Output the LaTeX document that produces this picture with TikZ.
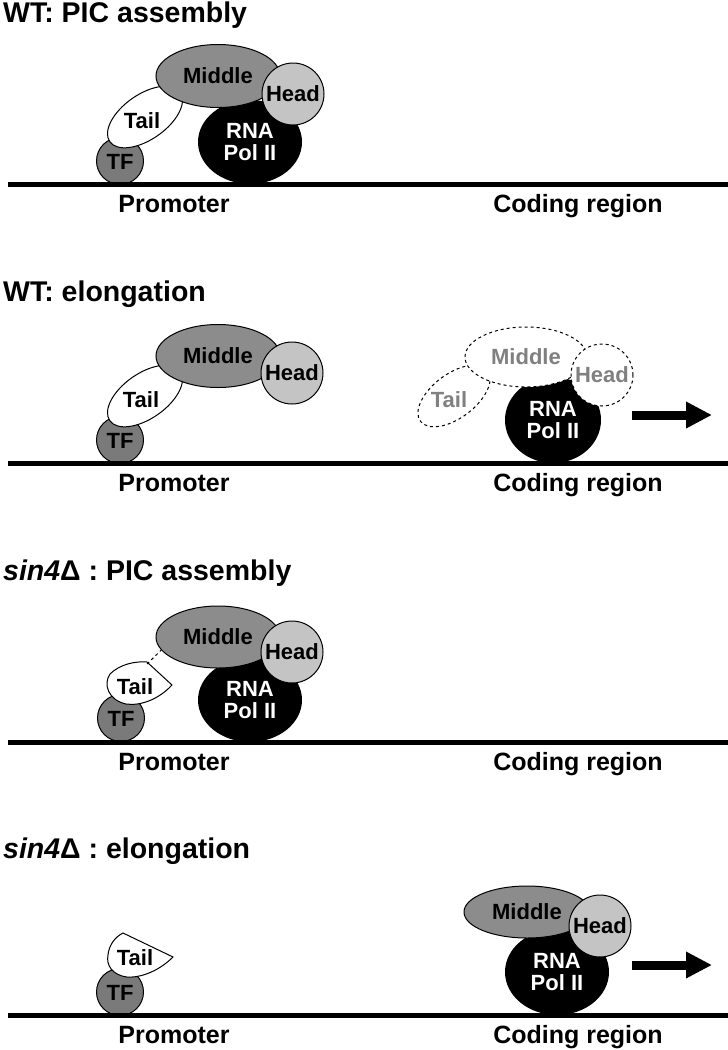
\documentclass[tikz,border=0pt]{standalone}
\usepackage{fontspec}
\setmainfont{Liberation Sans}
\usetikzlibrary{shapes.geometric,arrows.meta}
\definecolor{midgray}{HTML}{8C8C8C}
\definecolor{tfgray}{HTML}{7A7A7A}
\definecolor{headgray}{HTML}{C4C4C4}
\definecolor{ghostgray}{HTML}{808080}
\tikzset{
	paneltitle/.style={anchor=base west,inner sep=0,font=\fontsize{28.5}{30}\selectfont\bfseries},
	region/.style={anchor=base,inner sep=0,font=\fontsize{25}{27}\selectfont\bfseries},
	lbl/.style={inner sep=0,align=center,font=\fontsize{22}{22}\selectfont\bfseries},
	tfball/.style={circle,draw,line width=1pt,fill=tfgray,minimum size=47pt,inner sep=0},
	tailegg/.style={ellipse,draw,line width=1pt,fill=white,minimum width=86pt,minimum height=45pt,inner sep=0,rotate=35},
	middlebody/.style={ellipse,draw,line width=1pt,fill=midgray,minimum width=124pt,minimum height=63pt,inner sep=0},
	headball/.style={circle,draw,line width=1pt,fill=headgray,minimum size=62pt,inner sep=0},
	polbody/.style={ellipse,fill=black,text=white,minimum width=104pt,minimum height=84pt,inner sep=0},
	ghost/.style={draw,dashed,line width=1pt,fill=white,text=ghostgray},
	dna/.style={line width=5pt},
	moving/.style={line width=9pt,-{Triangle[length=26pt,width=25pt]}},
	tether/.style={dashed,line width=1pt},
}
\begin{document}
\begin{tikzpicture}[x=1pt,y=1pt]
	\useasboundingbox (0,0) rectangle (728,-1050);
	% WT: PIC assembly
	\node[paneltitle] (t1) at (3,-22) {WT: PIC assembly};
	\node[tfball] (tf1) at (120,-161) {};
	\node[tailegg] (tail1) at (145,-117) {};
	\node[lbl] (taillbl1) at (142,-121) {Tail};
	\node[lbl] (tflbl1) at (120,-162) {TF};
	\node[polbody,lbl,minimum width=104pt,minimum height=84pt] (pol1) at (250,-142) {RNA\\Pol II};
	\node[middlebody,lbl,minimum width=124pt,minimum height=63pt] (mid1) at (218,-76) {Middle};
	\node[headball,lbl,minimum size=62pt] (head1) at (293,-94) {Head};
	\draw[dna] (8,-184.5) -- (728,-184.5);
	\node[region] (prom1) at (174,-212) {Promoter};
	\node[region] (cod1) at (578,-212) {Coding region};
	% WT: elongation
	\node[paneltitle] (t2) at (3,-301) {WT: elongation};
	\node[tfball] (tf2) at (120,-440) {};
	\node[tailegg] (tail2) at (145,-396) {};
	\node[lbl] (taillbl2) at (141,-400) {Tail};
	\node[lbl] (tflbl2) at (120,-441) {TF};
	\node[middlebody,lbl,minimum width=124pt,minimum height=63pt] (mid2) at (218,-356) {Middle};
	\node[headball,lbl,minimum size=62pt] (head2) at (292,-373) {Head};
	\node[polbody,lbl,minimum width=96pt,minimum height=86pt] (pol2) at (553,-420) {RNA\\Pol II};
	\node[ellipse,ghost,minimum width=84pt,minimum height=44pt,inner sep=0,rotate=37] (tail2b) at (454,-396) {};
	\node[lbl,text=ghostgray] (taillbl2b) at (449,-400) {Tail};
	\node[ellipse,ghost,lbl,minimum width=122pt,minimum height=60pt] (mid2b) at (526,-357) {Middle};
	\node[circle,ghost,lbl,minimum size=62pt] (head2b) at (602,-375) {Head};
	\coordinate (go2a) at (632,-415);
	\coordinate (go2b) at (712,-415);
	\draw[moving] (go2a) -- (go2b);
	\draw[dna] (8,-463.5) -- (728,-463.5);
	\node[region] (prom2) at (174,-491) {Promoter};
	\node[region] (cod2) at (578,-491) {Coding region};
	% sin4: PIC assembly
	\node[paneltitle] (t3) at (3,-580) {\textit{sin4}Δ : PIC assembly};
	\node[tfball] (tf3) at (121,-718) {};
	\filldraw[fill=white,line width=1pt] (147,-662) -- (172,-685)
		.. controls (158,-700) and (140,-706) .. (126,-704)
		.. controls (108,-700) and (103,-684) .. (110,-674)
		.. controls (120,-664) and (136,-661) .. cycle;
	\coordinate (tail3top) at (147,-664);
	\node[lbl] (taillbl3) at (135,-687) {Tail};
	\node[lbl] (tflbl3) at (121,-719) {TF};
	\node[polbody,lbl,minimum width=104pt,minimum height=84pt] (pol3) at (250,-700) {RNA\\Pol II};
	\node[middlebody,lbl,minimum width=124pt,minimum height=62pt] (mid3) at (218,-637) {Middle};
	\node[headball,lbl,minimum size=62pt] (head3) at (292,-652) {Head};
	\draw[tether] (tail3top) -- (mid3.193);
	\draw[dna] (8,-742.5) -- (728,-742.5);
	\node[region] (prom3) at (174,-770) {Promoter};
	\node[region] (cod3) at (578,-770) {Coding region};
	% sin4: elongation
	\node[paneltitle] (t4) at (3,-858) {\textit{sin4}Δ : elongation};
	\node[tfball] (tf4) at (120,-992) {};
	\filldraw[fill=white,line width=1pt] (123,-933) -- (173,-957)
		.. controls (160,-970) and (142,-978) .. (127,-977)
		.. controls (112,-975) and (106,-965) .. (108,-955)
		.. controls (109,-945) and (115,-937) .. cycle;
	\node[lbl] (taillbl4) at (135,-958) {Tail};
	\node[lbl] (tflbl4) at (120,-993) {TF};
	\node[polbody,lbl,minimum width=104pt,minimum height=86pt] (pol4) at (557,-972) {RNA\\Pol II};
	\node[middlebody,lbl,minimum width=126pt,minimum height=52pt] (mid4) at (527,-912) {Middle};
	\node[headball,lbl,minimum size=62pt] (head4) at (600,-926) {Head};
	\coordinate (go4a) at (632,-965);
	\coordinate (go4b) at (712,-965);
	\draw[moving] (go4a) -- (go4b);
	\draw[dna] (8,-1015.5) -- (728,-1015.5);
	\node[region] (prom4) at (174,-1043) {Promoter};
	\node[region] (cod4) at (578,-1043) {Coding region};
\end{tikzpicture}
\end{document}
